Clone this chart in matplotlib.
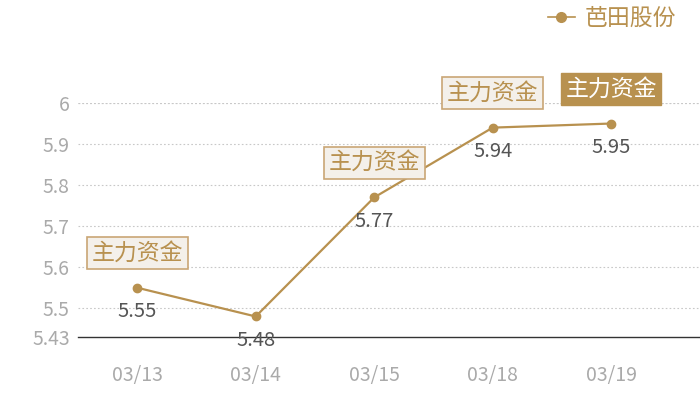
import matplotlib
matplotlib.use('Agg')
from matplotlib import pyplot as plt
from matplotlib.lines import Line2D

plt.rcParams['font.family'] = ['Noto Sans CJK SC', 'DejaVu Sans']

dates = ['03/13', '03/14', '03/15', '03/18', '03/19']
prices = [5.55, 5.48, 5.77, 5.94, 5.95]
flags = ['主力资金', None, '主力资金', '主力资金', '主力资金']
flag_dark = [False, False, False, False, True]
yticks = [5.43, 5.5, 5.6, 5.7, 5.8, 5.9, 6]
ytick_labels = ['5.43', '5.5', '5.6', '5.7', '5.8', '5.9', '6']
series_name = '芭田股份'

tan = '#b8914f'
grey = '#aaaaaa'

fig = plt.figure(figsize=(7, 4), dpi=100)
ax = fig.add_axes([78 / 700, 1 - 337 / 400, 622 / 700, (337 - 103) / 400])

x = list(range(len(dates)))
ax.plot(x, prices, color=tan, lw=1.6, marker='o', ms=6, zorder=3)

ax.set_xlim(-0.5, 4.75)
ax.set_ylim(5.43, 6.0)
ax.set_yticks(yticks)
ax.set_yticklabels(ytick_labels)
ax.set_xticks(x)
ax.set_xticklabels(dates)
ax.tick_params(length=0, labelsize=14, colors=grey, pad=6)
ax.tick_params(axis='x', pad=20)

for y in yticks[1:]:
    ax.axhline(y, color='#c8c8c8', lw=0.8, ls=(0, (1.5, 2)), zorder=1)
ax.axhline(6.0, color='#c8c8c8', lw=0.8, ls=(0, (1.5, 2)), zorder=1)

for s in ['top', 'right', 'left']:
    ax.spines[s].set_visible(False)
ax.spines['bottom'].set_color('#333333')
ax.spines['bottom'].set_linewidth(1.0)

for i, (p, f) in enumerate(zip(prices, flags)):
    ax.annotate(f'{p:.2f}', (i, p), xytext=(0, -17), textcoords='offset points',
                ha='center', va='center', fontsize=14.5, color='#555555')
    if f is None:
        continue
    if flag_dark[i]:
        box = dict(boxstyle='square,pad=0.2', fc=tan, ec=tan, lw=1)
        tc = 'white'
    else:
        box = dict(boxstyle='square,pad=0.2', fc='#f4f0ea', ec='#c9a675', lw=1.2)
        tc = tan
    ax.annotate(f, (i, p), xytext=(0, 25), textcoords='offset points',
                ha='center', va='center', fontsize=16.5, color=tc, bbox=box,
                annotation_clip=False, zorder=4)

handle = Line2D([], [], color=tan, lw=1.2, marker='o', ms=7)
fig.legend([handle], [series_name], loc='upper right', bbox_to_anchor=(0.995, 1.035),
           frameon=False, fontsize=16.5, labelcolor=tan, handlelength=1.2,
           handletextpad=0.4)

fig.savefig('out.png', dpi=100)
